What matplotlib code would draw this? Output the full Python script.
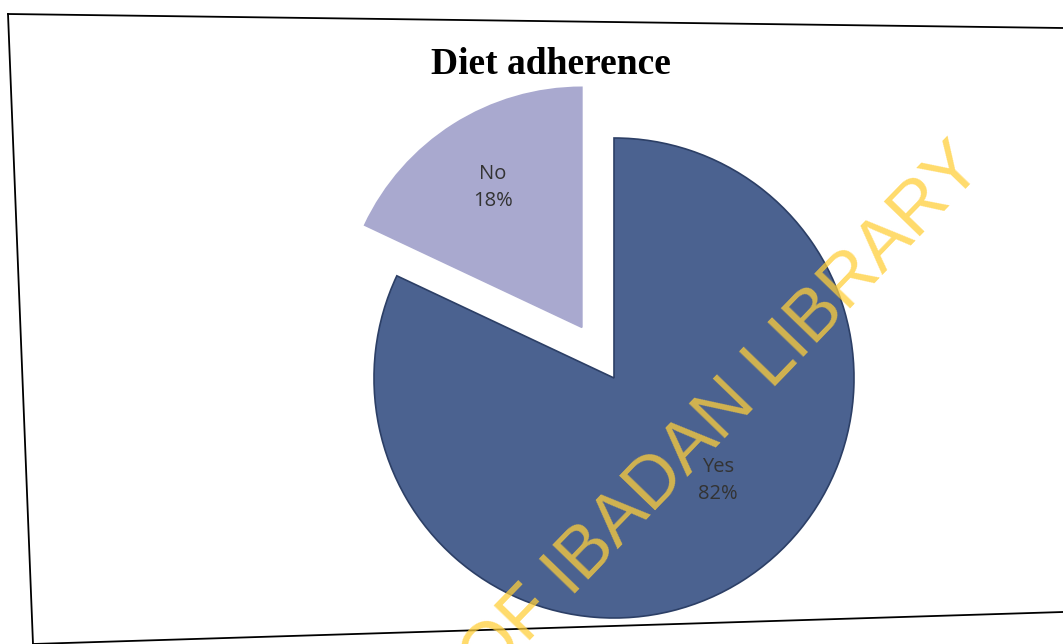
import numpy as np
import matplotlib.pyplot as plt
from matplotlib.lines import Line2D

labels = ['Yes', 'No']
shares = [82, 18]
colors = ['#4b6290', '#a9a9cf']
explode = [0, 0.25]          # fraction of the radius

radius = 240
center = (614, 266)

fig = plt.figure(figsize=(10.63, 6.44), dpi=100)
fig.patch.set_facecolor('white')

# pixel-space axes so the pie sits where it does in the scan
ax = fig.add_axes([0, 0, 1, 1])

wedges, texts = ax.pie(shares, labels=[f'{l}\n{s}%' for l, s in zip(labels, shares)],
                       colors=colors, explode=[e * radius for e in explode],
                       startangle=90, counterclock=False,
                       center=center, radius=radius, labeldistance=0.66,
                       wedgeprops=dict(linewidth=1.2), frame=True,
                       textprops=dict(fontsize=14.5, family='Open Sans', color='#333333',
                                      ha='center', va='center', linespacing=1.45))
ax.set_xlim(0, 1063)
ax.set_ylim(0, 644)
ax.set_aspect('equal')
ax.axis('off')
wedges[0].set_edgecolor('#2c3f66')
wedges[1].set_edgecolor('#a9a9cf')

# Excel-style label placement: nudge along the wedge
label_shift = [13, 0]      # degrees
label_dist = [0.61, 0.69]
for w, t, sh, d in zip(wedges, texts, label_shift, label_dist):
    ang = np.deg2rad((w.theta1 + w.theta2) / 2 + sh)
    cx, cy = w.center
    t.set_position((cx + d * w.r * np.cos(ang), cy + d * w.r * np.sin(ang)))

fig.text(0.518, 1 - 64 / 644, 'Diet adherence', ha='center', va='center',
         fontsize=27, fontweight='bold', family='Liberation Serif')

# scanned page border
fig.add_artist(Line2D([8 / 1063, 1], [1 - 14 / 644, 1 - 28 / 644], color='black', lw=1.3))
fig.add_artist(Line2D([8 / 1063, 33 / 1063], [1 - 14 / 644, 0], color='black', lw=1.3))
fig.add_artist(Line2D([33 / 1063, 1], [1 - 644 / 644, 1 - 612 / 644], color='black', lw=1.3))

# library watermark
fig.text(985 / 1063, 1 - 168 / 644, 'UNIVERSITY OF IBADAN LIBRARY', rotation=46,
         rotation_mode='anchor', ha='right', va='baseline', fontsize=52,
         family='Liberation Sans', color='#ffcf3a', alpha=0.75)

fig.savefig('out.png', dpi=100)
